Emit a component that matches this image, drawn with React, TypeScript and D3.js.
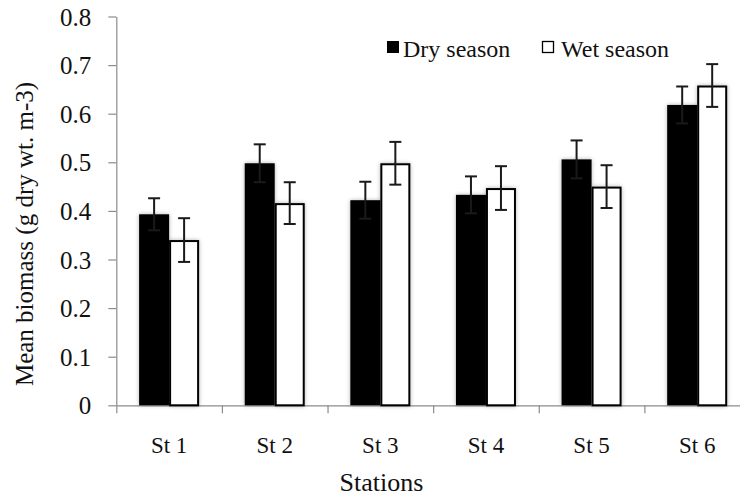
import { useRef, useEffect } from 'react';
import * as d3 from 'd3';

const stations = ['St 1', 'St 2', 'St 3', 'St 4', 'St 5', 'St 6'];
const dryMeans = [0.393, 0.498, 0.422, 0.433, 0.506, 0.618];
const dryErrors = [0.033, 0.039, 0.038, 0.038, 0.039, 0.038];
const wetMeans = [0.34, 0.416, 0.498, 0.447, 0.45, 0.658];
const wetErrors = [0.045, 0.043, 0.044, 0.045, 0.044, 0.044];
const yTicks = [0, 0.1, 0.2, 0.3, 0.4, 0.5, 0.6, 0.7, 0.8];
const seasons = ['dry', 'wet'];
const seasonLabels = ['Dry season', 'Wet season'];

export default function App() {
  const svgRef = useRef<SVGSVGElement>(null);

  useEffect(() => {
    const svgWidth = 740;
    const svgHeight = 496;
    const font = '"Liberation Serif", "Times New Roman", serif';

    const svg = d3.select(svgRef.current).attr('width', svgWidth).attr('height', svgHeight);
    svg.selectAll('*').remove();

    // soft glow behind the bars, like the office chart
    const defs = svg.append('defs');
    const filter = defs.append('filter').attr('id', 'glow').attr('x', '-30%').attr('y', '-10%').attr('width', '160%').attr('height', '120%');
    filter
      .append('feDropShadow')
      .attr('dx', 0)
      .attr('dy', 0)
      .attr('stdDeviation', 2)
      .attr('flood-color', '#000')
      .attr('flood-opacity', 0.3);

    const xScale = d3.scaleBand<string>().domain(stations).range([116.3, 750]);
    const inner = d3
      .scaleBand<string>()
      .domain(seasons)
      .range([xScale.bandwidth() / 2 - 30, xScale.bandwidth() / 2 + 30]);
    const yScale = d3.scaleLinear().domain([0, 0.8]).range([405.3, 16.5]);

    const rows = stations.flatMap((s, i) => [
      { station: s, season: 'dry', mean: dryMeans[i], err: dryErrors[i] },
      { station: s, season: 'wet', mean: wetMeans[i], err: wetErrors[i] },
    ]);

    // axes
    const yAxis = d3
      .axisLeft(yScale)
      .tickValues(yTicks)
      .tickSize(8)
      .tickPadding(17)
      .tickSizeOuter(0)
      .tickFormat((d) => (+d === 0 ? '0' : d3.format('.1f')(+d)));
    const yAxisDraw = svg.append('g').attr('transform', 'translate(116.3, 0)').call(yAxis);
    yAxisDraw.select('.domain').attr('stroke', '#8c8c8c').attr('stroke-width', 1.2);
    yAxisDraw.selectAll('.tick line').attr('stroke', '#8c8c8c').attr('stroke-width', 1.2);
    yAxisDraw
      .selectAll('.tick text')
      .attr('font-family', font)
      .attr('font-size', 25)
      .attr('fill', '#111')
      .attr('dy', '0.34em');

    const xAxis = d3.axisBottom(xScale).tickSize(0).tickSizeOuter(0).tickPadding(31);
    const xAxisDraw = svg.append('g').attr('transform', 'translate(0, 405.3)').call(xAxis);
    xAxisDraw.select('.domain').attr('stroke', '#8c8c8c').attr('stroke-width', 1.2);
    xAxisDraw
      .selectAll('.tick text')
      .attr('font-family', font)
      .attr('font-size', 23)
      .attr('fill', '#111');

    // category separators
    const sepAxis = d3
      .axisBottom(d3.scaleLinear().domain([0, stations.length]).range([116.3, 750]))
      .tickValues(d3.range(0, stations.length + 1))
      .tickSize(8)
      .tickFormat(() => '');
    const sepDraw = svg.append('g').attr('transform', 'translate(0, 405.3)').call(sepAxis);
    sepDraw.select('.domain').remove();
    sepDraw.selectAll('.tick line').attr('stroke', '#8c8c8c').attr('stroke-width', 1.2);

    // bars
    const barsGroup = svg.append('g').attr('class', 'bars');
    barsGroup
      .selectAll('rect')
      .data(rows)
      .join('rect')
      .attr('x', (d) => (xScale(d.station) as number) + (inner(d.season) as number) + (d.season === 'wet' ? 1 : 0))
      .attr('y', (d) => yScale(d.mean) + (d.season === 'wet' ? 1 : 0))
      .attr('width', (d) => inner.bandwidth() - (d.season === 'wet' ? 2 : 0))
      .attr('height', (d) => yScale(0) - yScale(d.mean) - (d.season === 'wet' ? 1 : 0))
      .attr('fill', (d) => (d.season === 'dry' ? '#000' : '#fff'))
      .attr('stroke', '#000')
      .attr('stroke-width', (d) => (d.season === 'wet' ? 2 : 0))
      .attr('filter', 'url(#glow)');

    // error bars
    const errGroup = svg.append('g').attr('class', 'errors');
    const cx = (d: any) => (xScale(d.station) as number) + (inner(d.season) as number) + inner.bandwidth() / 2;
    errGroup
      .selectAll('.stem')
      .data(rows)
      .join('line')
      .attr('class', 'stem')
      .attr('x1', cx)
      .attr('x2', cx)
      .attr('y1', (d) => yScale(d.mean + d.err))
      .attr('y2', (d) => yScale(d.mean - d.err))
      .attr('stroke', '#1a1a1a')
      .attr('stroke-width', 2);
    errGroup
      .selectAll('.cap')
      .data(rows.flatMap((d) => [{ ...d, v: d.mean + d.err }, { ...d, v: d.mean - d.err }]))
      .join('line')
      .attr('class', 'cap')
      .attr('x1', (d) => cx(d) - 6)
      .attr('x2', (d) => cx(d) + 6)
      .attr('y1', (d) => yScale(d.v))
      .attr('y2', (d) => yScale(d.v))
      .attr('stroke', '#1a1a1a')
      .attr('stroke-width', 2);

    // legend
    const legendX = [387, 542];
    const legend = svg
      .append('g')
      .selectAll('g')
      .data(seasons)
      .join('g')
      .attr('transform', (_d, i) => `translate(${legendX[i]}, 41)`);
    legend
      .append('rect')
      .attr('x', (d) => (d === 'wet' ? 0.5 : 0))
      .attr('y', (d) => (d === 'wet' ? 0.5 : 0))
      .attr('width', (d) => (d === 'wet' ? 11 : 12))
      .attr('height', (d) => (d === 'wet' ? 11 : 12))
      .attr('fill', (d) => (d === 'dry' ? '#000' : '#fff'))
      .attr('stroke', '#000')
      .attr('stroke-width', (d) => (d === 'wet' ? 1.3 : 0));
    legend
      .append('text')
      .attr('x', (_d, i) => (i === 0 ? 16 : 19))
      .attr('y', 15.5)
      .attr('font-family', font)
      .attr('font-size', 24)
      .attr('fill', '#111')
      .text((_d, i) => seasonLabels[i]);

    // axis titles
    svg
      .append('text')
      .attr('transform', 'translate(33, 234) rotate(-90)')
      .attr('text-anchor', 'middle')
      .attr('font-family', font)
      .attr('font-size', 25)
      .attr('fill', '#111')
      .text('Mean biomass (g dry wt. m-3)');
    svg
      .append('text')
      .attr('x', 381.5)
      .attr('y', 491)
      .attr('text-anchor', 'middle')
      .attr('font-family', font)
      .attr('font-size', 26)
      .attr('fill', '#111')
      .text('Stations');
  }, []);

  return (
    <div>
      <svg ref={svgRef} style={{ position: 'absolute', left: 0, top: 0, background: '#fff' }} />
    </div>
  );
}
